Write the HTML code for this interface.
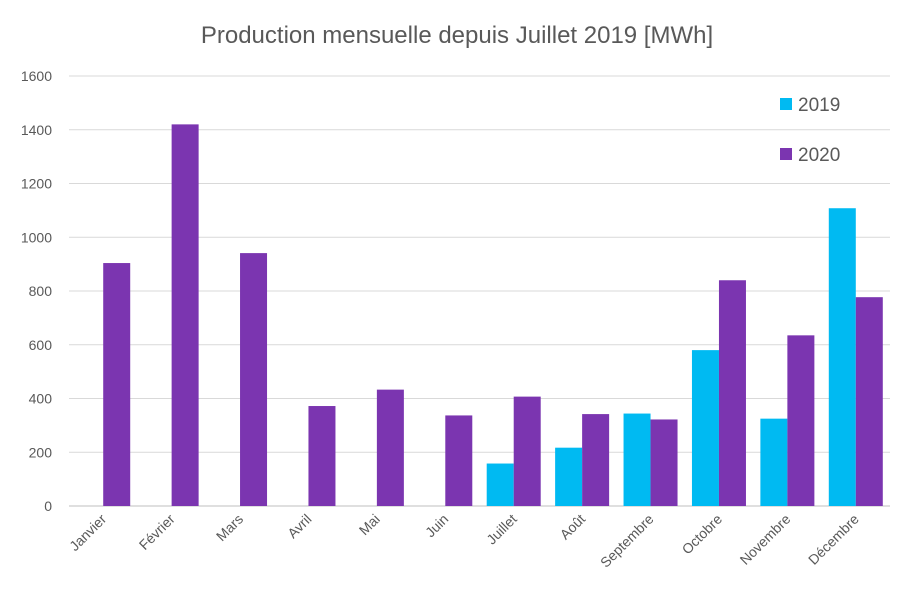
<!DOCTYPE html>
<html><head><meta charset="utf-8"><style>
body{margin:0;background:#fff;font-family:"Liberation Sans",sans-serif}
</style></head><body>
<svg id="chart" width="914" height="607" xmlns="http://www.w3.org/2000/svg" font-family="Liberation Sans, sans-serif">
<rect width="914" height="607" fill="#fff"/>
<text x="457" y="43" text-anchor="middle" font-size="24" fill="#595959">Production mensuelle depuis Juillet 2019 [MWh]</text>
<g id="grid"></g><g id="bars"></g><g id="labels"></g>
<g>
<rect x="780" y="98" width="12" height="12" fill="#00BAF2"/>
<text x="798" y="111" font-size="19" fill="#595959">2019</text>
<rect x="780" y="148" width="12" height="12" fill="#7B35B0"/>
<text x="798" y="161" font-size="19" fill="#595959">2020</text>
</g>
</svg>
<script>
const categories=["Janvier","Février","Mars","Avril","Mai","Juin","Juillet","Août","Septembre","Octobre","Novembre","Décembre"];
const series2019=[null,null,null,null,null,null,158,217,344,580,325,1108];
const series2020=[904,1420,941,372,433,337,407,342,322,840,635,777];
const yTicks=[0,200,400,600,800,1000,1200,1400,1600];
const NS="http://www.w3.org/2000/svg";
const x0=69,x1=890,y0=506,y1=76,yMax=1600;
const band=(x1-x0)/categories.length;
const y=v=>y0-(v/yMax)*(y0-y1);
const xc=i=>x0+band*(i+0.5);
const bw=27;
function mk(t,a,p){const e=document.createElementNS(NS,t);for(const k in a)e.setAttribute(k,a[k]);p.appendChild(e);return e;}
const grid=document.getElementById('grid'),bars=document.getElementById('bars'),labels=document.getElementById('labels');
yTicks.forEach(v=>{
 const l=mk('line',{x1:x0,x2:x1,y1:y(v),y2:y(v),stroke:v===0?'#BFBFBF':'#D9D9D9','stroke-width':1},grid);
 
 
 const t=mk('text',{x:52,y:y(v)+5,'text-anchor':'end','font-size':14,fill:'#595959'},labels);
 t.textContent=v;
 
 
});
categories.forEach((c,i)=>{
 if(series2019[i]!=null){
  const r=mk('rect',{x:xc(i)-bw,y:y(series2019[i]),width:bw,height:y0-y(series2019[i]),fill:'#00BAF2'},bars);
  
  
 }
 if(series2020[i]!=null){
  const r=mk('rect',{x:xc(i),y:y(series2020[i]),width:bw,height:y0-y(series2020[i]),fill:'#7B35B0'},bars);
  
  
 }
 const cx=xc(i)+4,cy=y0+14;
 const t=mk('text',{x:cx,y:cy,'text-anchor':'end','font-size':14,fill:'#595959',transform:`rotate(-45 ${cx} ${cy})`},labels);
 t.textContent=c;
 
 
});
</script>
</body></html>
